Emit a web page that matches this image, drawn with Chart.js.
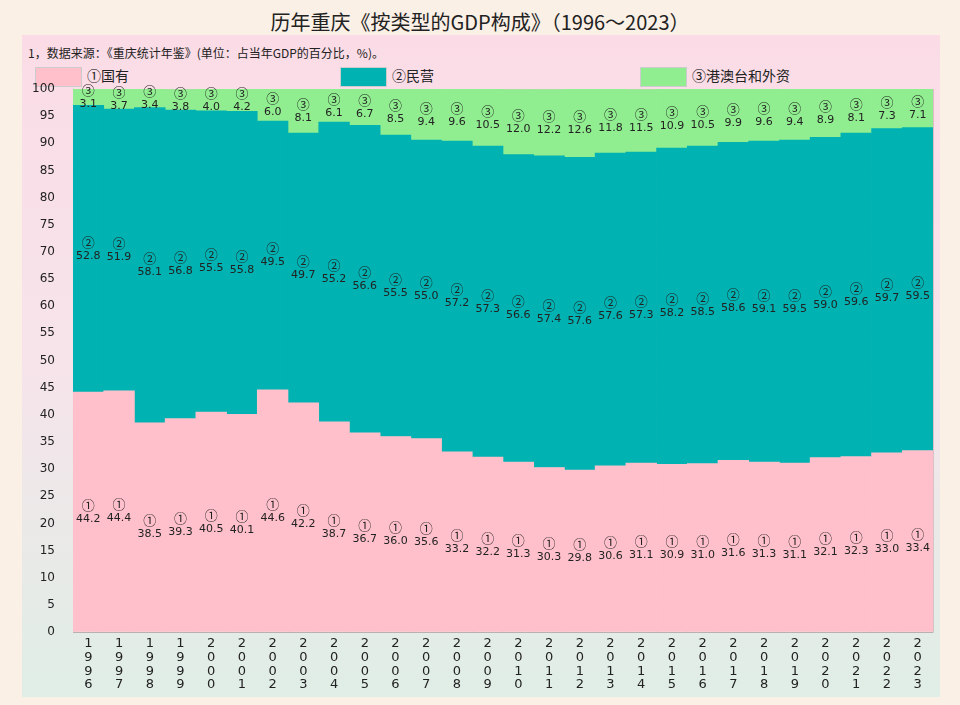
<!DOCTYPE html>
<html><head><meta charset="utf-8">
<script src="https://cdn.jsdelivr.net/npm/chart.js@4"></script>
<style>
body{margin:0;width:960px;height:705px;background:#faf0e6;font-family:"Noto Sans CJK SC",sans-serif;position:relative;overflow:hidden}
#panel{position:absolute;left:22px;top:35px;width:918px;height:662px;background:linear-gradient(#fbdce6,#f6e4ea 50%,#dfeee6)}
#title{position:absolute;top:7px;left:0;width:960px;text-align:center;font-size:20px;color:#222}
#note{position:absolute;left:28px;top:44px;font-size:12px;color:#222}
.lg{position:absolute;top:65px;font-size:14px;color:#222}
.lg i{display:inline-block;width:45px;height:18px;vertical-align:middle;margin-right:5px;border:1px solid #ccc}
canvas{position:absolute;left:0;top:0}
</style></head><body>
<div id="panel"></div>
<div id="title">历年重庆《按类型的GDP构成》（1996～2023）</div>
<div id="note">1，数据来源：《重庆统计年鉴》(单位：占当年GDP的百分比，%)。</div>
<div class="lg" style="left:35px"><i style="background:#ffc0cb"></i>①国有</div>
<div class="lg" style="left:340px"><i style="background:#00b2b2"></i>②民营</div>
<div class="lg" style="left:640px"><i style="background:#90ee90"></i>③港澳台和外资</div>
<canvas id="c" width="960" height="705"></canvas>
<script>
var years = ['1996','1997','1998','1999','2000','2001','2002','2003','2004','2005','2006','2007','2008','2009','2010','2011','2012','2013','2014','2015','2016','2017','2018','2019','2020','2021','2022','2023'];
var stateOwned = [44.2,44.4,38.5,39.3,40.5,40.1,44.6,42.2,38.7,36.7,36.0,35.6,33.2,32.2,31.3,30.3,29.8,30.6,31.1,30.9,31.0,31.6,31.3,31.1,32.1,32.3,33.0,33.4];
var privateOwned = [52.8,51.9,58.1,56.8,55.5,55.8,49.5,49.7,55.2,56.6,55.5,55.0,57.2,57.3,56.6,57.4,57.6,57.6,57.3,58.2,58.5,58.6,59.1,59.5,59.0,59.6,59.7,59.5];
var foreign = [3.1,3.7,3.4,3.8,4.0,4.2,6.0,8.1,6.1,6.7,8.5,9.4,9.6,10.5,12.0,12.2,12.6,11.8,11.5,10.9,10.5,9.9,9.6,9.4,8.9,8.1,7.3,7.1];
var marks = ['①','②','③'];

// circled number plus value, centred in each segment
var segLabels = {
  id: 'segLabels',
  afterDatasetsDraw: function(chart){
    var ctx = chart.ctx, y = chart.scales.y;
    ctx.save();
    ctx.fillStyle = '#222';
    ctx.textAlign = 'center';
    chart.data.datasets.forEach(function(ds, di){
      chart.getDatasetMeta(di).data.forEach(function(bar, i){
        var base = 0;
        for (var k = 0; k < di; k++) base += chart.data.datasets[k].data[i];
        var top = Math.min(base + ds.data[i], 100);
        var cy = y.getPixelForValue((base + top) / 2);
        ctx.font = '13px "Noto Sans CJK SC"';
        ctx.fillText(marks[di], bar.x, cy - 2);
        ctx.font = '11px "DejaVu Sans"';
        ctx.fillText(ds.data[i].toFixed(1), bar.x, cy + 10);
      });
    });
    ctx.restore();
  }
};

new Chart(document.getElementById('c'), {
  type: 'bar',
  data: {
    labels: years.map(function(s){ return s.split(''); }),
    datasets: [
      {data: stateOwned, backgroundColor: '#ffc0cb'},
      {data: privateOwned, backgroundColor: '#00b2b2'},
      {data: foreign, backgroundColor: '#90ee90'}
    ]
  },
  options: {
    responsive: false,
    animation: false,
    barPercentage: 1,
    categoryPercentage: 1,
    layout: {padding: {left: 22, right: 27, top: 89, bottom: 0}},
    plugins: {legend: {display: false}, tooltip: {enabled: false}},
    scales: {
      x: {
        stacked: true,
        grid: {color: 'rgba(150,80,100,0.25)', drawTicks: false},
        ticks: {color: '#222', font: {size: 13, family: 'DejaVu Sans', lineHeight: 1.05}, maxRotation: 0, autoSkip: false, padding: 5},
        afterFit: function(s){ s.height = 73; }
      },
      y: {
        stacked: true, min: 0, max: 100,
        grid: {color: 'rgba(150,80,100,0.25)', drawTicks: false},
        border: {display: false},
        ticks: {stepSize: 5, color: '#222', font: {size: 12, family: 'DejaVu Sans'}, padding: 18},
        afterFit: function(s){ s.width = 51; }
      }
    }
  },
  plugins: [segLabels]
});
</script>
</body></html>
